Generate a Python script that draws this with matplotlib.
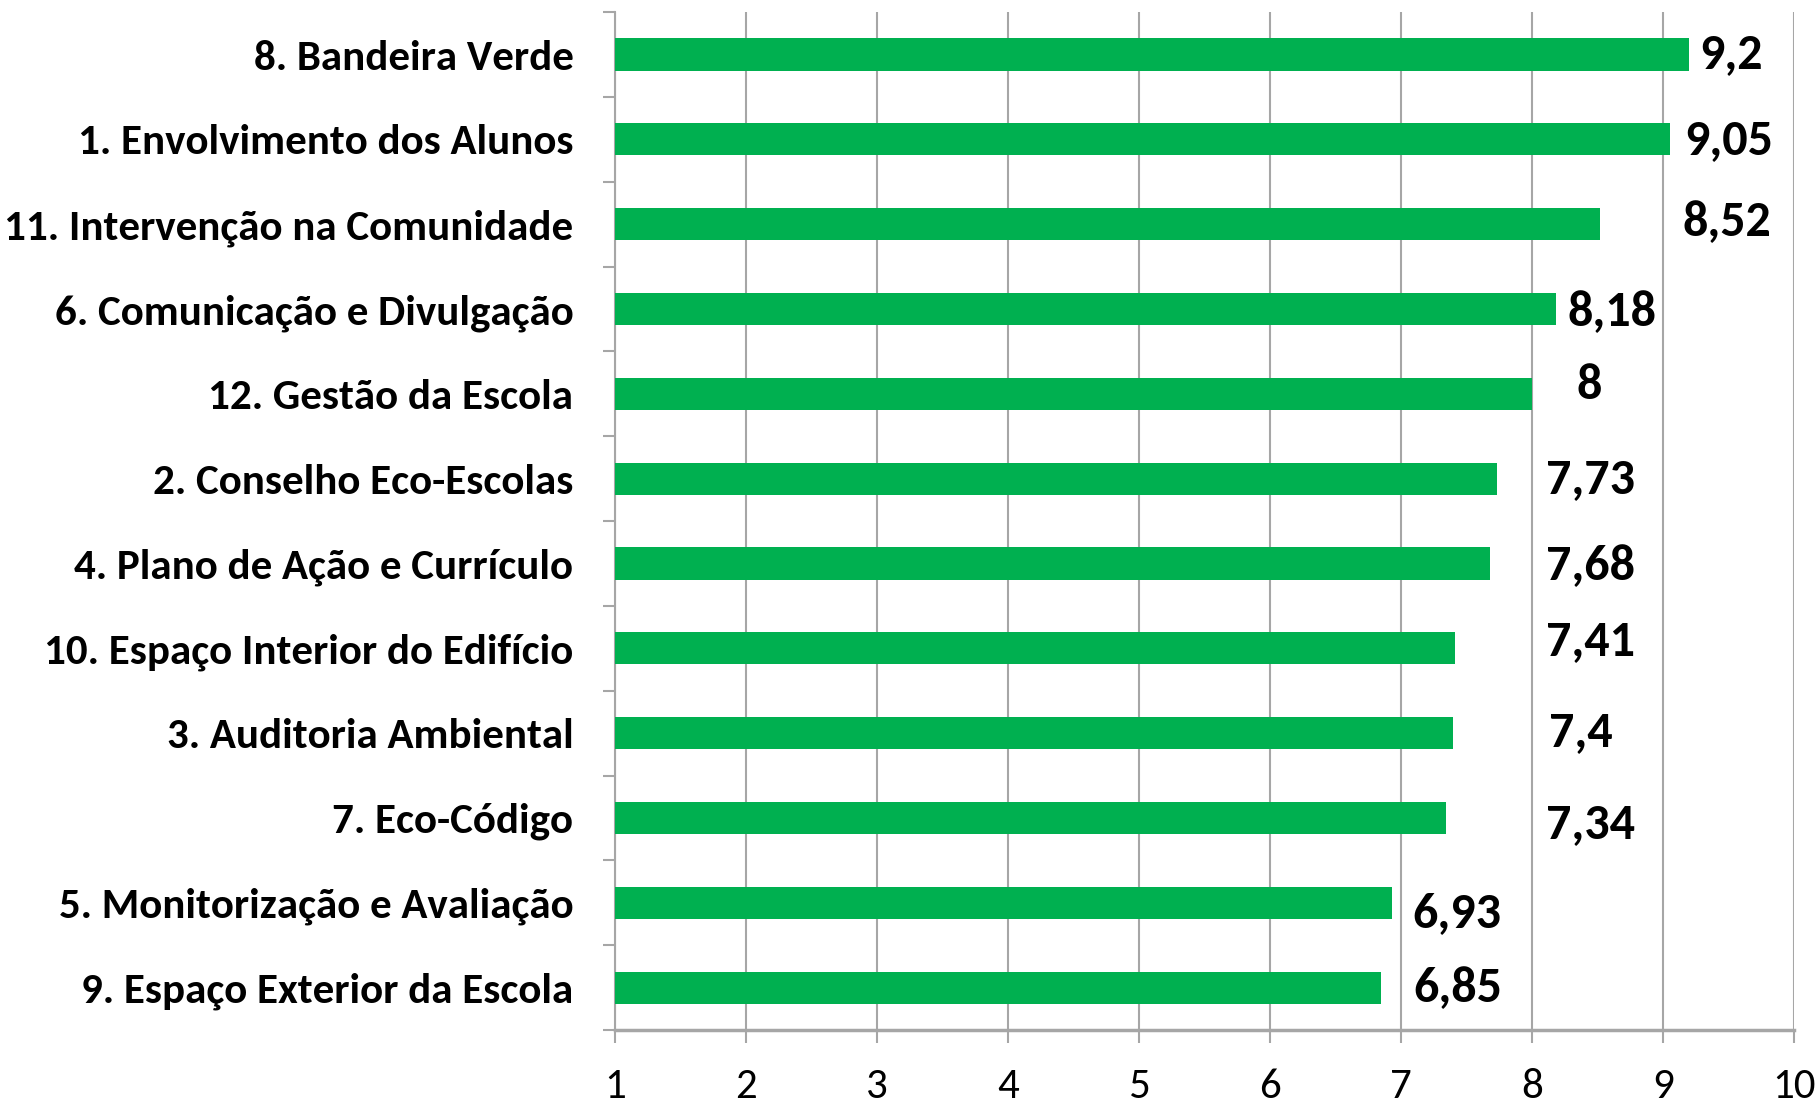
import matplotlib
matplotlib.use("Agg")
import matplotlib.pyplot as plt
import numpy as np

# Data (top to bottom, as shown)
CATEGORIES = [
    "8. Bandeira Verde",
    "1. Envolvimento dos Alunos",
    "11. Intervenção na Comunidade",
    "6. Comunicação e Divulgação",
    "12. Gestão da Escola",
    "2. Conselho Eco-Escolas",
    "4. Plano de Ação e Currículo",
    "10. Espaço Interior do Edifício",
    "3. Auditoria Ambiental",
    "7. Eco-Código",
    "5. Monitorização e Avaliação",
    "9. Espaço Exterior da Escola",
]
VALUES = [9.2, 9.05, 8.52, 8.18, 8.0, 7.73, 7.68, 7.41, 7.4, 7.34, 6.93, 6.85]
VALUE_TEXT = ["9,2", "9,05", "8,52", "8,18", "8", "7,73", "7,68", "7,41",
              "7,4", "7,34", "6,93", "6,85"]

# label placement (manually dragged labels in the original), data units
LABEL_X = [9.52, 9.50, 9.49, 8.61, 8.44, 8.45, 8.45, 8.45, 8.37, 8.45, 7.43, 7.43]
LABEL_DY = [0.0, -0.01, 0.03, -0.04, 0.11, -0.01, -0.03, 0.08, 0.01, -0.07, -0.12, 0.0]

GREEN = "#00B050"
GRID = "#A6A6A6"
FONT = ["Carlito", "DejaVu Sans"]

plt.rcParams["font.family"] = FONT

fig = plt.figure(figsize=(18.2, 11.02), dpi=100)
ax = fig.add_axes([0.338, 0.0653, 0.6477, 0.9237])

n = len(CATEGORIES)
y = np.arange(n)[::-1]

ax.barh(y, [v - 1 for v in VALUES], left=1, height=0.38, color=GREEN, zorder=3)

for yi, lx, dy, txt in zip(y, LABEL_X, LABEL_DY, VALUE_TEXT):
    ax.text(lx, yi + dy, txt, ha="center", va="center", fontsize=36,
            fontweight="bold", color="black", zorder=4)

ax.set_xlim(1, 10)
ax.set_ylim(-0.5, n - 0.5)
ax.set_xticks(range(1, 11))
ax.set_xticklabels([str(i) for i in range(1, 11)], fontsize=31)

ax.set_yticks(y)
ax.set_yticklabels(CATEGORIES, fontsize=31, fontweight="bold")
ax.set_yticks(np.arange(-0.5, n, 1.0), minor=True)
ax.tick_params(axis="y", which="major", length=0, pad=30)
ax.tick_params(axis="y", which="minor", length=9, width=1.5, color=GRID)
ax.tick_params(axis="x", which="major", length=9, width=1.5, color=GRID, pad=18)

ax.grid(True, axis="x", color=GRID, linewidth=1.5, zorder=0)
for s in ["top", "right"]:
    ax.spines[s].set_visible(False)
ax.spines["left"].set_color(GRID)
ax.spines["left"].set_linewidth(1.5)
ax.spines["bottom"].set_color(GRID)
ax.spines["bottom"].set_linewidth(2.5)
ax.set_axisbelow(True)

fig.savefig("out.png", dpi=100, facecolor="white")
